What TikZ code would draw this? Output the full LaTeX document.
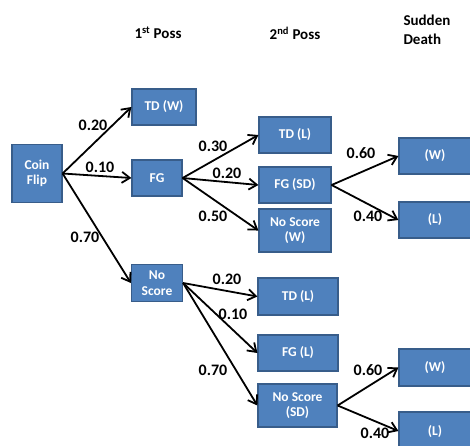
\documentclass[tikz,border=0pt]{standalone}
\usepackage{fontspec}
\setmainfont{Carlito}
\usetikzlibrary{arrows.meta}
\definecolor{boxblue}{HTML}{4F81BD}
\definecolor{boxedge}{HTML}{385D8A}

\begin{document}
\begin{tikzpicture}[x=1pt,y=-1pt,
    box/.style={draw=boxedge, line width=1.2pt, fill=boxblue, text=white, inner sep=0pt,
        align=center, font=\fontsize{13.5}{15.5}\selectfont\bfseries},
    arr/.style={line width=1.8pt, -{Straight Barb[length=8pt,width=11pt,line width=1.8pt]}},
    prob/.style={font=\fontsize{16}{18}\selectfont\bfseries},
    head/.style={font=\fontsize{15}{19}\selectfont\bfseries, align=left}]
    \useasboundingbox (0,0) rectangle (470,445);

    \node[head] at (158,33) {1\textsuperscript{st} Poss};
    \node[head] at (295,33) {2\textsuperscript{nd} Poss};
    \node[head, anchor=west] at (400,30) {Sudden\\Death};

    \node[box, minimum width=50pt, minimum height=58pt] (coin) at (37,173.5) {Coin\\Flip};

    \node[box, minimum width=64pt, minimum height=36pt] (tdw) at (164,107) {TD (W)};
    \node[box, minimum width=50pt, minimum height=36pt] (fg) at (157,178) {FG};
    \node[box, minimum width=51pt, minimum height=37pt] (ns) at (157,283) {No\\Score};

    \node[box, minimum width=72pt, minimum height=36pt] (fgtdl) at (295,135) {TD (L)};
    \node[box, minimum width=72pt, minimum height=36pt] (fgsd) at (295,185) {FG (SD)};
    \node[box, minimum width=72pt, minimum height=43pt] (fgnsw) at (295,230.5) {No Score\\(W)};

    \node[box, minimum width=80pt, minimum height=37pt] (nstdl) at (298,296.5) {TD (L)};
    \node[box, minimum width=80pt, minimum height=36pt] (nsfgl) at (298,353) {FG (L)};
    \node[box, minimum width=79pt, minimum height=43pt] (nssd) at (297.5,405.5) {No Score\\(SD)};

    \node[box, minimum width=72pt, minimum height=36pt] (sdw) at (435,156) {(W)};
    \node[box, minimum width=72pt, minimum height=36pt] (sdl) at (435,220) {(L)};
    \node[box, minimum width=72pt, minimum height=37pt] (nssdw) at (435,367.5) {(W)};
    \node[box, minimum width=72pt, minimum height=38pt] (nssdl) at (435,431) {(L)};

    \foreach \to in {tdw, fg, ns}
        \draw[arr] (coin.east) -- (\to.west);
    \foreach \to in {fgtdl, fgsd, fgnsw}
        \draw[arr] (fg.east) -- (\to.west);
    \foreach \to in {nstdl, nsfgl, nssd}
        \draw[arr] (ns.east) -- (\to.west);
    \draw[arr] (fgsd.east) -- (sdw.west);
    \draw[arr] (fgsd.east) -- (sdl.west);
    \draw[arr] (nssd.east) -- (nssdw.west);
    \draw[arr] (nssd.east) -- (nssdl.west);

    \node[prob] at (93,125) {0.20};
    \node[prob] at (100,167) {0.10};
    \node[prob] at (85,237) {0.70};
    \node[prob] at (213,146) {0.30};
    \node[prob] at (227,173) {0.20};
    \node[prob] at (213,216) {0.50};
    \node[prob] at (361,153) {0.60};
    \node[prob] at (368,216) {0.40};
    \node[prob] at (227,279) {0.20};
    \node[prob] at (233,314) {0.10};
    \node[prob] at (213,370) {0.70};
    \node[prob] at (368,370) {0.60};
    \node[prob] at (375,433) {0.40};
\end{tikzpicture}
\end{document}
